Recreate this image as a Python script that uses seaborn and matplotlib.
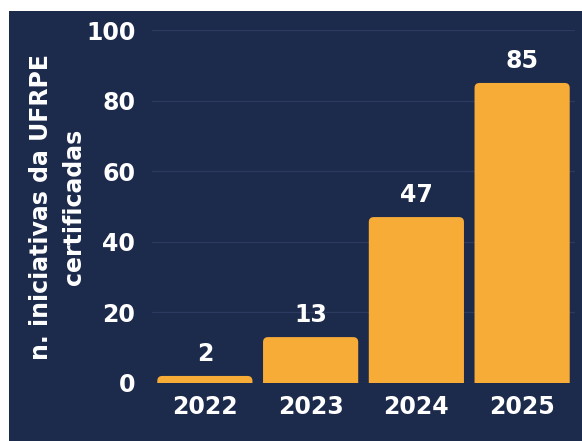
import matplotlib
matplotlib.use("Agg")
import matplotlib.pyplot as plt
import seaborn as sns
import pandas as pd
from matplotlib.patches import Rectangle, FancyBboxPatch

years = ["2022", "2023", "2024", "2025"]
counts = [2, 13, 47, 85]
ylabel = "n. iniciativas da UFRPE\ncertificadas"

NAVY = "#1c2a4c"
ORANGE = "#f8ac38"

sns.set_theme(style="dark")
plt.rcParams['font.family'] = ['DejaVu Sans']

df = pd.DataFrame({"ano": years, "n": counts})

fig = plt.figure(figsize=(5.82, 4.41), dpi=100, facecolor=NAVY)
fig.patches.append(Rectangle((0, 1 - 11/441), 1, 11/441, transform=fig.transFigure,
                             facecolor="white", edgecolor="none", zorder=10))
fig.patches.append(Rectangle((0, 0), 9/582, 1, transform=fig.transFigure,
                             facecolor="white", edgecolor="none", zorder=10))

ax_w_px, ax_h_px = 423, 353
ax = fig.add_axes([152/582, 1 - 383/441, ax_w_px/582, ax_h_px/441])
ax.set_facecolor(NAVY)
sns.barplot(data=df, x="ano", y="n", color=ORANGE, saturation=1, width=0.9, ax=ax,
            zorder=3, linewidth=0)

ax.set_ylim(0, 100)
ax.set_xlim(-0.5, 3.5)
ax.set_yticks([0, 20, 40, 60, 80, 100])
ax.grid(axis="y", color="#2b3a5e", linewidth=1.0, zorder=0)
ax.grid(axis="x", visible=False)
for s in ax.spines.values():
    s.set_visible(False)

# replace rectangles with rounded-corner versions (bottom corners clipped by axes)
px_per_x = ax_w_px / 4.0
px_per_y = ax_h_px / 100.0
aspect = px_per_x / px_per_y
for p in list(ax.patches):
    x, y, w, h = p.get_x(), p.get_y(), p.get_width(), p.get_height()
    r_px = 5.0
    r_x = r_px / px_per_x
    r_y = r_px / px_per_y
    fb = FancyBboxPatch((x, y - r_y), w, h + r_y,
                        boxstyle=f"round,pad=0,rounding_size={r_x}",
                        mutation_aspect=aspect, facecolor=ORANGE,
                        edgecolor="none", zorder=3)
    ax.add_patch(fb)
    p.set_visible(False)

ax.tick_params(axis="y", colors="white", labelsize=17, pad=12, length=0)
ax.tick_params(axis="x", colors="white", labelsize=17, pad=9, length=0)
for lab in ax.get_xticklabels() + ax.get_yticklabels():
    lab.set_fontweight("bold")

ax.set_xlabel("")
ax.set_ylabel(ylabel, color="white", fontsize=17, fontweight="bold", linespacing=1.45, labelpad=0)

for cont in ax.containers:
    ax.bar_label(cont, labels=[str(v) for v in counts], padding=7, color="white",
                 fontsize=17, fontweight="bold")

fig.savefig("out.png", dpi=100, facecolor=NAVY)
